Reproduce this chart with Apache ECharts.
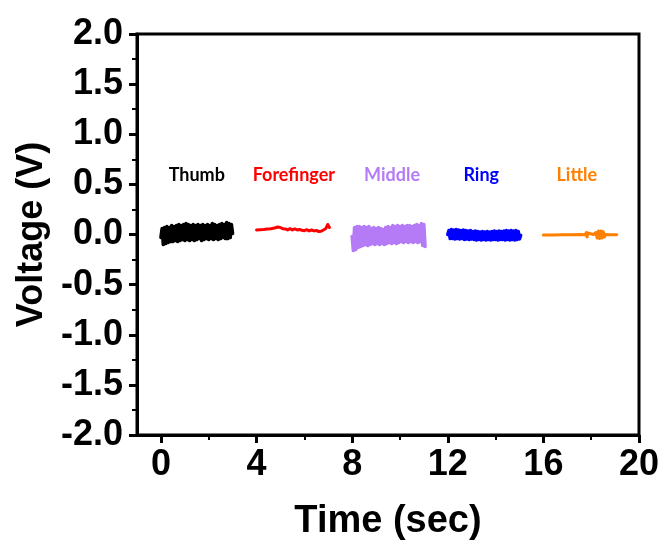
<!DOCTYPE html>
<html>
<head>
<meta charset="utf-8">
<script src="https://cdn.jsdelivr.net/npm/echarts@6/dist/echarts.min.js"></script>
<style>html,body{margin:0;padding:0;background:#fff}#c{width:665px;height:549px}</style>
</head>
<body>
<div id="c"></div>
<script>
// ---- data ----
const xTicks = [0, 4, 8, 12, 16, 20];
const xMinorTicks = [2, 6, 10, 14, 18];

// Thumb: sampled from t=0, every 0.05 s
const thumbStart = 0, thumbStep = 0.05;
const thumbV = [-0.03,0.06,-0.10,0.07,-0.09,0.08,-0.08,0.07,-0.07,0.09,-0.07,0.08,-0.06,0.09,-0.07,0.10,-0.06,0.09,-0.05,0.10,
 -0.06,0.11,-0.05,0.10,-0.06,0.09,-0.05,0.10,-0.06,0.09,-0.05,0.10,-0.04,0.09,-0.06,0.10,-0.05,0.09,-0.04,0.10,
 -0.05,0.09,-0.04,0.11,-0.05,0.10,-0.04,0.09,-0.05,0.10,-0.04,0.11,-0.03,0.10,-0.04,0.12,-0.04,0.11,-0.03,0.10,0.01];

// Forefinger: [time, voltage]
const foreT = [4.0,4.15,4.3,4.45,4.6,4.75,4.9,5.0,5.1,5.2,5.3,5.4,5.5,5.6,5.7,5.8,5.9,6.0,6.1,6.2,6.3,6.4,6.5,6.6,6.7,6.8,6.9,6.98,7.05];
const foreV = [0.045,0.048,0.05,0.055,0.058,0.065,0.075,0.068,0.058,0.055,0.045,0.058,0.045,0.055,0.045,0.05,0.042,0.038,0.048,0.035,0.045,0.036,0.04,0.03,0.032,0.045,0.06,0.1,0.07];

// Middle: sampled from t=8, every 0.05 s
const midStart = 8.0, midStep = 0.05;
const midV = [-0.02,-0.16,0.07,-0.15,0.08,-0.13,0.08,-0.12,0.07,-0.11,0.08,-0.10,0.07,-0.11,0.08,-0.10,0.06,-0.09,0.07,-0.10,
 0.06,-0.09,0.07,-0.10,0.06,-0.09,0.05,-0.10,0.07,-0.09,0.08,-0.08,0.07,-0.09,0.09,-0.08,0.08,-0.09,0.09,-0.08,
 0.08,-0.07,0.09,-0.08,0.08,-0.07,0.09,-0.08,0.09,-0.07,0.08,-0.08,0.09,-0.07,0.10,-0.08,0.09,-0.07,0.11,-0.11,0.10,-0.12];

// Ring: sampled from t=12, every 0.05 s
const ringStart = 12.0, ringStep = 0.05;
const ringV = [0.0,0.04,-0.04,0.05,-0.04,0.045,-0.045,0.05,-0.04,0.045,-0.045,0.04,-0.04,0.045,-0.05,0.04,-0.045,0.035,-0.05,0.04,
 -0.045,0.03,-0.05,0.035,-0.055,0.03,-0.05,0.025,-0.055,0.03,-0.05,0.025,-0.055,0.03,-0.05,0.025,-0.055,0.03,-0.05,0.035,
 -0.05,0.03,-0.055,0.035,-0.05,0.03,-0.05,0.035,-0.055,0.04,-0.05,0.035,-0.055,0.04,-0.05,0.035,-0.055,0.04,-0.05,0.03,-0.045,-0.01];

// Little: [time, voltage]
const littleT = [16.0,16.3,16.35,16.4,16.8,17.2,17.5,17.75,17.8,17.83,17.86,17.9,18.1,18.2,18.25,18.3,18.35,18.4,18.45,18.5,18.55,18.6,18.8,19.07];
const littleV = [-0.005,-0.005,-0.02,-0.005,-0.003,-0.002,0.0,-0.002,0.02,-0.025,0.015,-0.002,0.0,0.02,-0.035,0.035,-0.04,0.035,-0.035,0.03,-0.025,0.0,-0.002,-0.003];

const labelNames = ['Thumb','Forefinger','Middle','Ring','Little'];
const labelX = [1.5, 5.56, 9.67, 13.4, 17.4];
const labelY = 0.59;
const colors = ['#000000','#ff0000','#b57bf6','#0000ff','#ff7f00'];

// ---- build ----
const sampled = (start, step, vals) => vals.map((v, i) => [+(start + i * step).toFixed(3), v]);
const paired = (ts, vs) => ts.map((t, i) => [t, vs[i]]);

const traces = [
  { name: 'Thumb', data: sampled(thumbStart, thumbStep, thumbV), w: 3.5 },
  { name: 'Forefinger', data: paired(foreT, foreV), w: 3 },
  { name: 'Middle', data: sampled(midStart, midStep, midV), w: 3.5 },
  { name: 'Ring', data: sampled(ringStart, ringStep, ringV), w: 3.5 },
  { name: 'Little', data: paired(littleT, littleV), w: 3 }
];

const axisFont = { fontFamily: 'Liberation Sans, Arial, sans-serif', fontWeight: 'bold', color: '#000' };

const series = traces.map((s, i) => ({
  type: 'line', name: s.name, data: s.data, xAxisIndex: 0, yAxisIndex: 0,
  showSymbol: false, symbol: 'none', lineStyle: { color: colors[i], width: s.w, join: 'round', cap: 'round' },
  silent: true
}));

series.push({
  type: 'custom', xAxisIndex: 0, yAxisIndex: 0, silent: true,
  data: labelNames.map((n, i) => [labelX[i], labelY, i]),
  renderItem: (params, api) => {
    const p = api.coord([api.value(0), api.value(1)]);
    const idx = api.value(2);
    return {
      type: 'text',
      style: { text: labelNames[idx], x: p[0], y: p[1], fill: colors[idx], align: 'center', verticalAlign: 'middle',
        font: 'bold 18px Lato, "Open Sans", sans-serif' }
    };
  }
});

const chart = echarts.init(document.getElementById('c'), null, { renderer: 'canvas' });
chart.setOption({
  animation: false,
  backgroundColor: '#fff',
  grid: { left: 137, right: 26, top: 34, bottom: 114, show: true, borderColor: '#000', borderWidth: 3, backgroundColor: 'transparent' },
  xAxis: [{
    type: 'value', min: -1, max: 20, position: 'bottom',
    name: 'Time (sec)', nameLocation: 'middle', nameGap: 68,
    nameTextStyle: Object.assign({ fontSize: 38 }, axisFont),
    axisLine: { show: true, onZero: false, lineStyle: { color: '#000', width: 3 } },
    axisTick: { show: true, inside: false, length: 8, lineStyle: { color: '#000', width: 3 }, customValues: xTicks },
    axisLabel: Object.assign({ fontSize: 36, margin: 12, customValues: xTicks }, axisFont),
    splitLine: { show: false }
  }, {
    type: 'value', min: -1, max: 20, position: 'bottom',
    axisLine: { show: false, onZero: false },
    axisTick: { show: true, inside: false, length: 5, lineStyle: { color: '#000', width: 2 }, customValues: xMinorTicks },
    axisLabel: { show: false },
    splitLine: { show: false }
  }],
  yAxis: {
    type: 'value', min: -2, max: 2, interval: 0.5,
    name: 'Voltage (V)', nameLocation: 'middle', nameGap: 77,
    nameTextStyle: Object.assign({ fontSize: 36 }, axisFont),
    axisLine: { show: true, onZero: false, lineStyle: { color: '#000', width: 3 } },
    axisTick: { show: true, inside: false, length: 8, lineStyle: { color: '#000', width: 3 } },
    minorTick: { show: true, splitNumber: 2, length: 5, lineStyle: { color: '#000', width: 2 } },
    axisLabel: Object.assign({ fontSize: 36, margin: 14, formatter: v => v.toFixed(1) }, axisFont),
    splitLine: { show: false }
  },
  series: series
});
</script>
</body>
</html>
